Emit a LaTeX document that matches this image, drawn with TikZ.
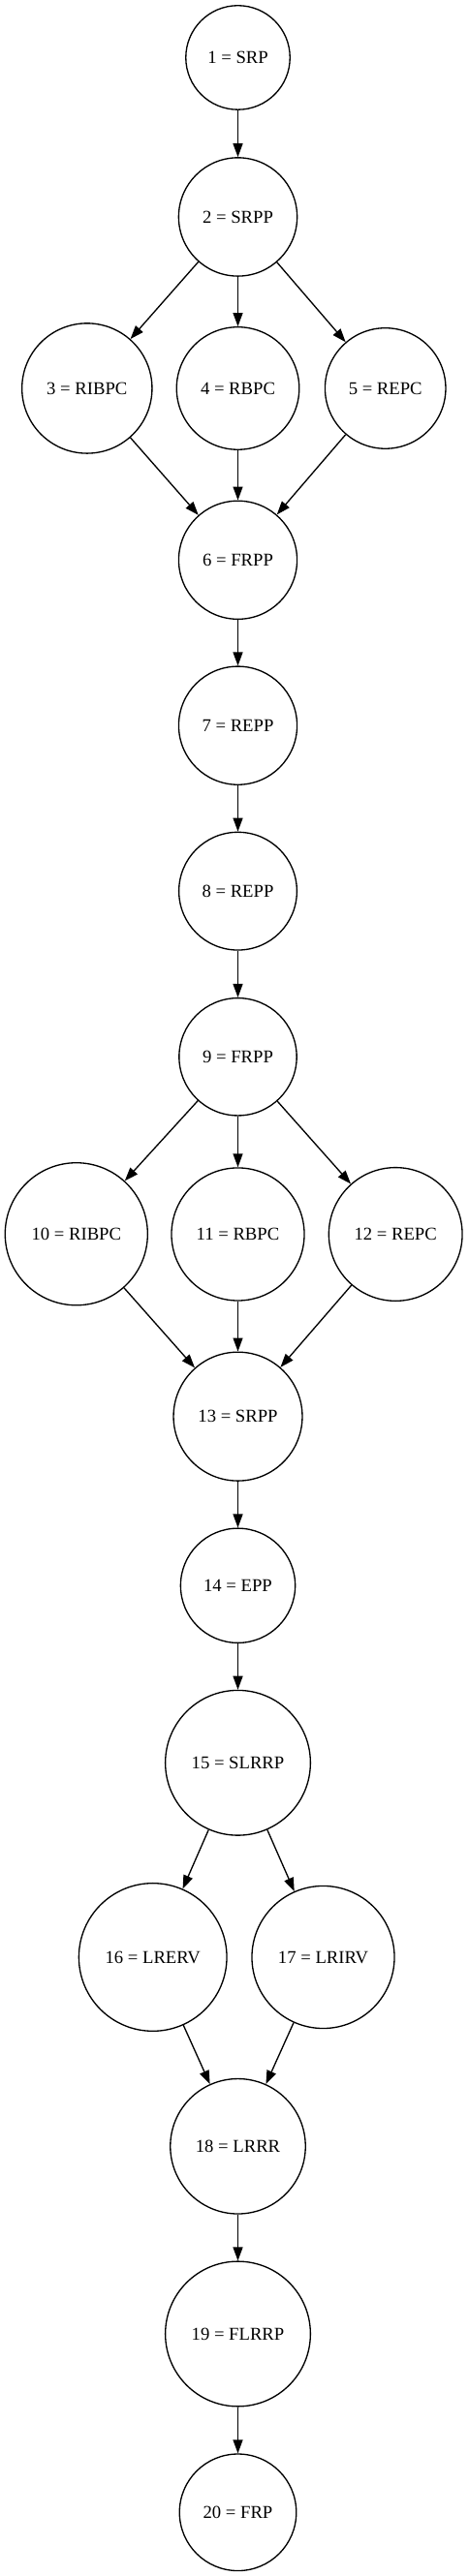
\documentclass[tikz,border=0pt]{standalone}
\usepackage{fontspec}
\setmainfont{Liberation Serif}
\usepackage{tikz}
\usetikzlibrary{arrows.meta}

\tikzset{
  stage/.style={circle,draw=drawColor,line width=1pt,inner sep=0pt,
    font=\fontsize{14}{16}\selectfont,text=drawColor},
  flow/.style={draw=drawColor,line width=1pt,line join=round,
    -{Triangle[length=10.5pt,width=7.5pt]}}
}

\begin{document}
\begin{tikzpicture}[x=1pt,y=1pt]
\definecolor{fillColor}{RGB}{255,255,255}
\path[use as bounding box,fill=fillColor] (0,0) rectangle (362.25,1995.00);
\begin{scope}
\definecolor{drawColor}{RGB}{0,0,0}

\node[stage,minimum size= 80.6pt] (n1) at (184.13,1950.38) {1 = SRP};

\node[stage,minimum size= 91.7pt] (n2) at (184.13,1827.00) {2 = SRPP};

\node[stage,minimum size=100.7pt] (n3) at ( 67.35,1694.25) {3 = RIBPC};

\node[stage,minimum size= 94.9pt] (n4) at (184.13,1694.25) {4 = RBPC};

\node[stage,minimum size= 93.4pt] (n5) at (298.28,1694.25) {5 = REPC};

\node[stage,minimum size= 91.6pt] (n6) at (184.13,1561.28) {6 = FRPP};

\node[stage,minimum size= 91.6pt] (n7) at (184.13,1433.10) {7 = REPP};

\node[stage,minimum size= 91.3pt] (n8) at (184.13,1304.85) {8 = REPP};

\node[stage,minimum size= 91.0pt] (n9) at (184.13,1176.53) {9 = FRPP};

\node[stage,minimum size=110.3pt] (n10) at ( 59.10,1039.30) {10 = RIBPC};

\node[stage,minimum size=102.8pt] (n11) at (184.13,1039.13) {11 = RBPC};

\node[stage,minimum size=103.3pt] (n12) at (306.15,1039.13) {12 = REPC};

\node[stage,minimum size= 99.7pt] (n13) at (184.13, 898.00) {13 = SRPP};

\node[stage,minimum size= 88.7pt] (n14) at (184.13, 767.03) {14 = EPP};

\node[stage,minimum size=112.3pt] (n15) at (184.13, 629.78) {15 = SLRRP};

\node[stage,minimum size=114.5pt] (n16) at (118.28, 479.25) {16 = LRERV};

\node[stage,minimum size=110.3pt] (n17) at (250.13, 479.25) {17 = LRIRV};

\node[stage,minimum size=104.6pt] (n18) at (184.13, 332.78) {18 = LRRR};

\node[stage,minimum size=112.3pt] (n19) at (184.13, 187.50) {19 = FLRRP};

\node[stage,minimum size= 90.4pt] (n20) at (184.13,  49.28) {20 = FRP};
\end{scope}
\begin{scope}
\definecolor{drawColor}{RGB}{0,0,0}

\path[flow] (n1) -- (n2);

\path[flow] (n2) -- (n3);

\path[flow] (n2) -- (n4);

\path[flow] (n2) -- (n5);

\path[flow] (n3) -- (n6);

\path[flow] (n4) -- (n6);

\path[flow] (n5) -- (n6);

\path[flow] (n6) -- (n7);

\path[flow] (n7) -- (n8);

\path[flow] (n8) -- (n9);

\path[flow] (n9) -- (n10);

\path[flow] (n9) -- (n11);

\path[flow] (n9) -- (n12);

\path[flow] (n10) -- (n13);

\path[flow] (n11) -- (n13);

\path[flow] (n12) -- (n13);

\path[flow] (n13) -- (n14);

\path[flow] (n14) -- (n15);

\path[flow] (n15) -- (n16);

\path[flow] (n15) -- (n17);

\path[flow] (n16) -- (n18);

\path[flow] (n17) -- (n18);

\path[flow] (n18) -- (n19);

\path[flow] (n19) -- (n20);
\end{scope}
\end{tikzpicture}
\end{document}
